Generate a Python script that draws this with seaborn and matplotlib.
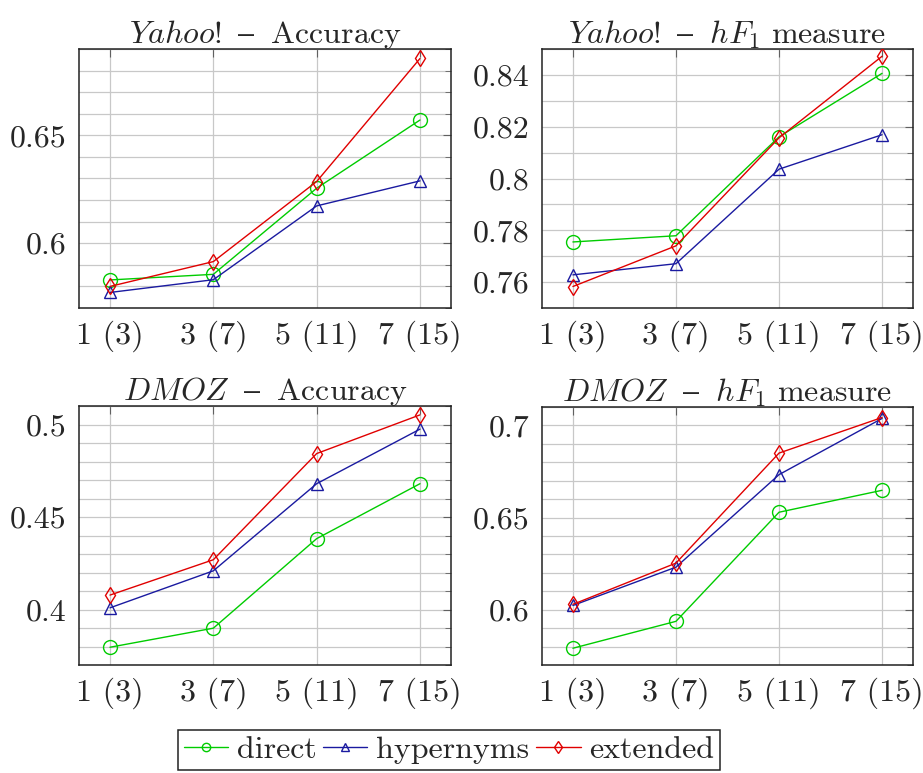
import numpy as np
import pandas as pd
import matplotlib
matplotlib.use("Agg")
import matplotlib.pyplot as plt
from matplotlib.ticker import FixedLocator, MultipleLocator
from matplotlib.lines import Line2D
import seaborn as sns

# ---- data ----
x_labels = ["1 (3)", "3 (7)", "5 (11)", "7 (15)"]
series = ["direct", "hypernyms", "extended"]

yahoo_acc_direct = [0.583, 0.5856, 0.6255, 0.6571]
yahoo_acc_hyper = [0.5772, 0.5831, 0.6173, 0.6289]
yahoo_acc_ext = [0.5800, 0.5915, 0.6286, 0.6856]

yahoo_hf_direct = [0.7755, 0.7779, 0.8161, 0.8406]
yahoo_hf_hyper = [0.7628, 0.7671, 0.8036, 0.8169]
yahoo_hf_ext = [0.7583, 0.7740, 0.8157, 0.8472]

dmoz_acc_direct = [0.3796, 0.3899, 0.4383, 0.4680]
dmoz_acc_hyper = [0.4009, 0.4209, 0.4680, 0.4975]
dmoz_acc_ext = [0.4078, 0.4269, 0.4843, 0.5052]

dmoz_hf_direct = [0.5791, 0.5937, 0.6529, 0.6648]
dmoz_hf_hyper = [0.6023, 0.6231, 0.6733, 0.7038]
dmoz_hf_ext = [0.6029, 0.6253, 0.6850, 0.7043]

titles = [r"$\mathit{Yahoo!}\ \mathrm{–}\ \;\mathrm{Accuracy}$",
          r"$\mathit{Yahoo!}\ \mathrm{–}\ \;hF_1\ \mathrm{measure}$",
          r"$\mathit{DMOZ}\ \;\mathrm{–}\ \;\mathrm{Accuracy}$",
          r"$\mathit{DMOZ}\ \;\mathrm{–}\ \;hF_1\ \mathrm{measure}$"]
panel_data = [
    (yahoo_acc_direct, yahoo_acc_hyper, yahoo_acc_ext),
    (yahoo_hf_direct, yahoo_hf_hyper, yahoo_hf_ext),
    (dmoz_acc_direct, dmoz_acc_hyper, dmoz_acc_ext),
    (dmoz_hf_direct, dmoz_hf_hyper, dmoz_hf_ext),
]
yticks = [[0.6, 0.65], [0.76, 0.78, 0.80, 0.82, 0.84], [0.4, 0.45, 0.5], [0.6, 0.65, 0.7]]
ytick_labels = [["0.6", "0.65"], ["0.76", "0.78", "0.8", "0.82", "0.84"],
                ["0.4", "0.45", "0.5"], ["0.6", "0.65", "0.7"]]
ylims = [(0.570, 0.690), (0.750, 0.850), (0.370, 0.510), (0.570, 0.710)]

colors = {"direct": "#00cc00", "hypernyms": "#1a1aa0", "extended": "#e00000"}
markers = {"direct": "o", "hypernyms": "^", "extended": "d"}
msizes = {"direct": 10, "hypernyms": 9, "extended": 8}

sns.set_theme(style="white")
plt.rcParams["font.family"] = ["cmr10", "DejaVu Serif"]
plt.rcParams["mathtext.fontset"] = "cm"
plt.rcParams["axes.formatter.use_mathtext"] = True

fig = plt.figure(figsize=(9.23, 7.73), dpi=100)
W, H = 923, 773
boxes = [(79, 49, 451, 308), (542, 49, 913, 308), (79, 406, 451, 665), (542, 407, 913, 665)]

fs = 23
for i, (l, t, r, b) in enumerate(boxes):
    ax = fig.add_axes([l / W, 1 - b / H, (r - l) / W, (b - t) / H])
    d, h, e = panel_data[i]
    df = pd.DataFrame({"x": list(range(4)) * 3,
                       "y": list(d) + list(h) + list(e),
                       "series": ["direct"] * 4 + ["hypernyms"] * 4 + ["extended"] * 4})
    for s in series:
        sub = df[df["series"] == s]
        sns.lineplot(data=sub, x="x", y="y", ax=ax, color=colors[s], marker=markers[s],
                     markersize=msizes[s], markerfacecolor="none", markeredgecolor=colors[s],
                     markeredgewidth=1.0, linewidth=1.0, label=s, legend=False, zorder=3)
    ax.set_xlim(-0.3, 3.3)
    ax.set_ylim(*ylims[i])
    ax.xaxis.set_major_locator(FixedLocator(range(4)))
    ax.set_xticklabels(x_labels)
    ax.yaxis.set_major_locator(FixedLocator(yticks[i]))
    ax.set_yticklabels(ytick_labels[i])
    ax.yaxis.set_minor_locator(MultipleLocator(0.01))
    ax.grid(True, which="major", color="#c8c8c8", linewidth=0.9, zorder=0)
    ax.grid(True, which="minor", axis="y", color="#c8c8c8", linewidth=0.9, zorder=0)
    ax.tick_params(which="both", direction="in", top=True, right=True, color="#606060",
                   labelsize=fs, pad=9)
    ax.tick_params(which="major", length=6, width=0.8)
    ax.tick_params(which="minor", length=4, width=0.6)
    ax.tick_params(axis="x", which="minor", length=0)
    for sp in ax.spines.values():
        sp.set_color("#222222")
        sp.set_linewidth(1.1)
    ax.set_xlabel("")
    ax.set_ylabel("")
    ax.set_title(titles[i], fontsize=fs, pad=4)

handles = [Line2D([], [], color=colors[s], marker=markers[s], markersize=6,
                  markerfacecolor="none", markeredgecolor=colors[s], markeredgewidth=1.0,
                  linewidth=1.0) for s in series]
leg = fig.legend(handles, series, loc="upper center",
                 bbox_to_anchor=(449 / W, 1 - 730 / H), ncol=3, fontsize=fs,
                 frameon=True, fancybox=False, edgecolor="#222222", framealpha=1,
                 handlelength=1.38, handletextpad=0.28, columnspacing=0.22,
                 borderpad=0.18, borderaxespad=0)
leg.get_frame().set_linewidth(1.1)

fig.savefig("out.png", dpi=100)
